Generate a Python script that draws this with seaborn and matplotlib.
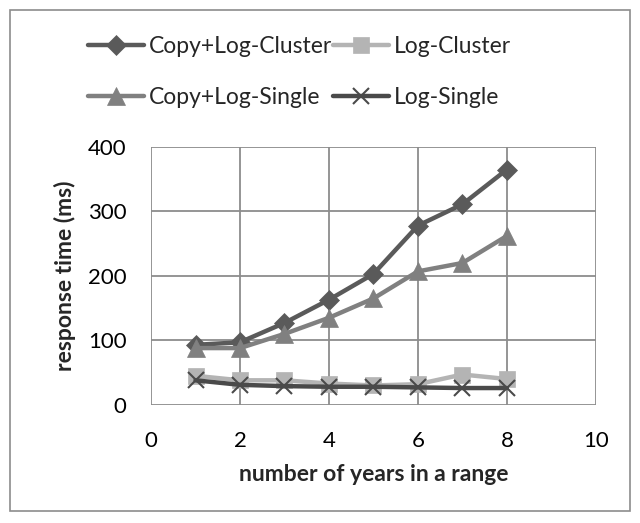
import matplotlib
matplotlib.use("Agg")
import matplotlib.pyplot as plt
import seaborn as sns
from matplotlib.patches import Rectangle

# data
years = [1, 2, 3, 4, 5, 6, 7, 8]
copy_log_cluster = [93, 97, 127, 163, 203, 278, 311, 365]
log_cluster = [45, 38, 38, 33, 30, 32, 47, 40]
copy_log_single = [88, 88, 110, 135, 165, 207, 220, 262]
log_single = [38, 31, 29, 28, 28, 27, 26, 26]

series = [
    ("Copy+Log-Cluster", copy_log_cluster, "#5a5a5a", "D", 10),
    ("Log-Cluster", log_cluster, "#b4b4b4", "s", 11),
    ("Copy+Log-Single", copy_log_single, "#808080", "^", 13),
    ("Log-Single", log_single, "#4a4a4a", "x", 12),
]

sns.set_style("white")
plt.rcParams["font.family"] = ["Lato", "DejaVu Sans"]

fig = plt.figure(figsize=(6.4, 5.23), dpi=100)
ax = fig.add_axes([0.236, 0.226, 0.695, 0.493])

handles = {}
for name, vals, col, mk, ms in series:
    sns.lineplot(x=years, y=vals, ax=ax, color=col, linewidth=3.2,
                 marker=mk, markersize=ms, markeredgecolor=col,
                 markeredgewidth=1.5 if mk == "x" else 0.5, label=name, legend=False)
    handles[name] = ax.lines[-1]

ax.set_xlim(0, 10)
ax.set_ylim(0, 400)
ax.set_xticks(range(0, 11, 2))
ax.set_yticks(range(0, 401, 100))
ax.grid(True, color="#8c8c8c", linewidth=1.3)
ax.set_axisbelow(True)
for sp in ax.spines.values():
    sp.set_visible(False)
ax.tick_params(labelsize=16, length=0, colors="black")
ax.tick_params(axis="x", pad=19)
ax.tick_params(axis="y", pad=17.5)
ax.set_xlabel("number of years in a range", fontsize=16.5, fontweight="bold", labelpad=9)
ax.set_ylabel("response time (ms)", fontsize=16.5, fontweight="bold", labelpad=8.5)

# legend fills column-wise, so order it to get Excel's row layout
order = ["Copy+Log-Cluster", "Copy+Log-Single", "Log-Cluster", "Log-Single"]
fig.legend([handles[n] for n in order], order, ncol=2, loc="upper left",
           bbox_to_anchor=(0.105, 0.97), frameon=False, fontsize=16.5,
           handlelength=2.45, handletextpad=0.2, columnspacing=0.05,
           labelspacing=1.3)

fig.patches.append(Rectangle((0.016, 0.022), 0.968, 0.958, transform=fig.transFigure,
                             fill=False, edgecolor="#8c8c8c", linewidth=1.2))

fig.savefig("out.png", dpi=100)
